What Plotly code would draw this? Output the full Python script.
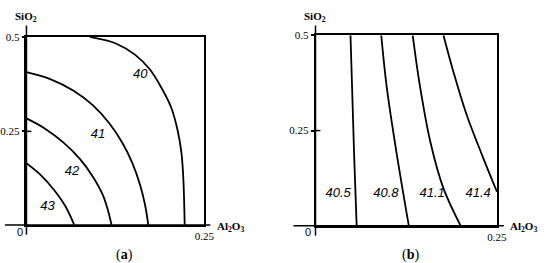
import plotly.graph_objects as go

W, H = 550, 263

# panel (a) contour lines
a_levels = ["40", "41", "42", "43"]
a_x = [
    [0.0890, 0.1255, 0.1528, 0.1734, 0.1893, 0.2030, 0.2121, 0.2176, 0.2203, 0.2222],
    [0.0, 0.0342, 0.0662, 0.0935, 0.1163, 0.1346, 0.1483, 0.1597, 0.1665, 0.1711],
    [0.0, 0.0251, 0.0525, 0.0753, 0.0935, 0.1072, 0.1141, 0.1195],
    [0.0, 0.0205, 0.0388, 0.0547, 0.0671],
]
a_y = [
    [0.500, 0.4827, 0.4523, 0.4133, 0.3657, 0.3137, 0.2530, 0.1924, 0.1231, 0.0],
    [0.4064, 0.3873, 0.3570, 0.3180, 0.2704, 0.2184, 0.1664, 0.1057, 0.0537, 0.0],
    [0.2834, 0.2574, 0.2184, 0.1750, 0.1274, 0.0797, 0.0407, 0.0],
    [0.1638, 0.1317, 0.0927, 0.0494, 0.0],
]
a_label_x = [0.1597, 0.1004, 0.0639, 0.0297]
a_label_y = [0.4003, 0.2400, 0.1404, 0.0494]

# panel (b) contour lines
b_levels = ["40.5", "40.8", "41.1", "41.4"]
b_x = [
    [0.0482, 0.0504, 0.0531, 0.0567],
    [0.0906, 0.0982, 0.1116, 0.1286],
    [0.1339, 0.1442, 0.1585, 0.1763, 0.2000],
    [0.1763, 0.1897, 0.2076, 0.2299, 0.25],
]
b_y = [
    [0.5, 0.3632, 0.1923, 0.0],
    [0.5, 0.3632, 0.1923, 0.0],
    [0.5, 0.3632, 0.2179, 0.0983, 0.0],
    [0.5, 0.4060, 0.2949, 0.1838, 0.0897],
]
b_label_x = [0.03125, 0.0969, 0.1607, 0.2241]
b_label_y = [0.0855, 0.0855, 0.0855, 0.0855]

serif = "Liberation Serif"
sans = "Liberation Sans"


def px(x):
    return x / W


def py(y):
    return (H - y) / H


fig = go.Figure()

for xs, ys in zip(a_x, a_y):
    fig.add_trace(go.Scatter(x=xs, y=ys, mode="lines", line=dict(color="black", width=1.8, shape="spline"),
                             xaxis="x", yaxis="y", hoverinfo="skip"))
fig.add_trace(go.Scatter(x=a_label_x, y=a_label_y, mode="text", text=a_levels,
                         textfont=dict(family=sans, size=13, color="black", style="italic"),
                         xaxis="x", yaxis="y", hoverinfo="skip"))

for xs, ys in zip(b_x, b_y):
    fig.add_trace(go.Scatter(x=xs, y=ys, mode="lines", line=dict(color="black", width=1.8, shape="spline"),
                             xaxis="x2", yaxis="y2", hoverinfo="skip"))
fig.add_trace(go.Scatter(x=b_label_x, y=b_label_y, mode="text", text=b_levels,
                         textfont=dict(family=sans, size=13, color="black", style="italic"),
                         xaxis="x2", yaxis="y2", hoverinfo="skip"))

axis_common = dict(showgrid=False, zeroline=False, showline=True, mirror=True,
                   linecolor="black", linewidth=1.5,
                   tickfont=dict(family=serif, size=11, color="black"))

fig.update_layout(
    width=W, height=H,
    margin=dict(l=0, r=0, t=0, b=0),
    paper_bgcolor="white", plot_bgcolor="white",
    showlegend=False,
    xaxis=dict(domain=[px(25), px(207)], range=[0, 0.25], tickvals=[0.25], ticktext=["0.25"],
               ticks="", ticklen=0, **axis_common),
    yaxis=dict(domain=[py(224), py(31.7)], range=[0, 0.5], tickvals=[0.25, 0.5], ticktext=["0.25", "0.5"],
               ticks="outside", ticklen=3, tickcolor="black", tickwidth=1.5, **axis_common),
    xaxis2=dict(domain=[px(320.5), px(506)], range=[0, 0.25], tickvals=[0.25], ticktext=["0.25"],
                ticks="", ticklen=0, anchor="y2", **axis_common),
    yaxis2=dict(domain=[py(225), py(30)], range=[0, 0.5], tickvals=[0.25, 0.5], ticktext=["0.25", "0.5"],
                ticks="outside", ticklen=3, tickcolor="black", tickwidth=1.5, anchor="x2", **axis_common),
)

# axis lines extending beyond the frame, and tick crossing inside
shapes = []
for (xl, xr, yb, xa, yt, yd, ytick) in [(3, 213, 224, 25, 20, 234, 128.3), (298, 513, 225, 320.5, 20, 235, 127.5)]:
    shapes.append(dict(type="line", xref="paper", yref="paper", x0=px(xl), x1=px(xr), y0=py(yb), y1=py(yb),
                       line=dict(color="black", width=1.5)))
    shapes.append(dict(type="line", xref="paper", yref="paper", x0=px(xa), x1=px(xa), y0=py(yt), y1=py(yd),
                       line=dict(color="black", width=1.5)))
    shapes.append(dict(type="line", xref="paper", yref="paper", x0=px(xa), x1=px(xa + 5), y0=py(ytick), y1=py(ytick),
                       line=dict(color="black", width=1.5)))
fig.update_layout(shapes=shapes)


def label(x, y, text, family, size):
    return dict(x=px(x), y=py(y), xref="paper", yref="paper", text=text, showarrow=False,
                xanchor="center", yanchor="middle", font=dict(family=family, size=size, color="black"))


annotations = []
for (x0, xs, xal) in [(18, 25, 234), (313, 320, 533)]:
    annotations.append(label(x0, 231, "0", sans, 11))
    annotations.append(label(xs, 11, "<b>SiO<sub>2</sub></b>", serif, 11))
    annotations.append(label(xal, 226, "<b>Al<sub>2</sub>O<sub>3</sub></b>", serif, 11))
annotations.append(label(125, 255, "(<b>a</b>)", serif, 14))
annotations.append(label(418, 255, "(<b>b</b>)", serif, 14))
fig.update_layout(annotations=annotations)

fig.write_html("out.html", config={"displayModeBar": False},
               post_script="document.body.style.margin='0';document.body.style.overflow='hidden';")
